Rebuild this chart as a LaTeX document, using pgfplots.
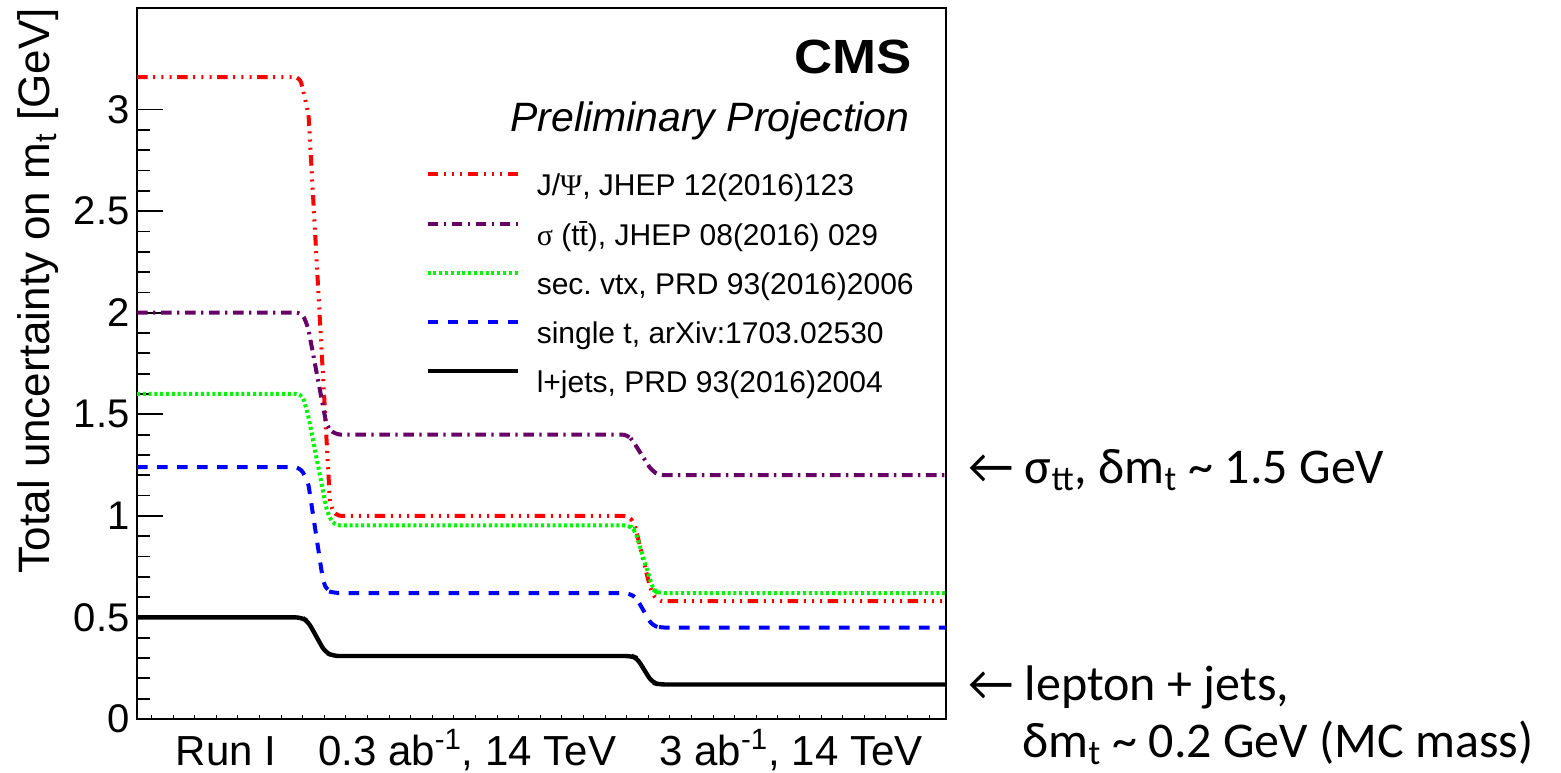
\documentclass[border=0pt]{standalone}
\usepackage{fontspec}
\setmainfont{Liberation Sans}
\newfontfamily\serif{Liberation Serif}
\newfontfamily\calibri{Carlito}
\usepackage{graphicx}
\usepackage{pgfplots}
\pgfplotsset{compat=1.18}
\usepackage{pgfplotstable}
\frenchspacing

\definecolor{cmsred}{RGB}{255,0,0}
\definecolor{cmspurple}{RGB}{102,0,102}
\definecolor{cmsgreen}{RGB}{0,245,0}
\definecolor{cmsblue}{RGB}{0,0,255}

% Projected total uncertainty on m_t for each method
% (x: 0-0.6 Run I, 0.7-1.85 0.3/ab, 1.9-3 3/ab; steps joined by short ramps)
\pgfplotstableread{
x y
0     3.16
0.604 3.16
0.636 2.98
0.716 1.06
0.735 1.00
1.821 1.00
1.843 0.97
1.906 0.63
1.930 0.58
3     0.58
}\jpsi
\pgfplotstableread{
x y
0     2.00
0.612 2.00
0.634 1.93
0.704 1.44
0.734 1.40
1.821 1.40
1.843 1.36
1.910 1.22
1.939 1.20
3     1.20
}\xsec
\pgfplotstableread{
x y
0     1.60
0.612 1.60
0.634 1.50
0.705 1.02
0.730 0.953
1.828 0.953
1.846 0.93
1.915 0.635
1.932 0.62
3     0.62
}\secvtx
\pgfplotstableread{
x y
0     1.24
0.604 1.24
0.634 1.17
0.690 0.68
0.705 0.63
0.734 0.62
1.828 0.62
1.854 0.59
1.910 0.46
1.939 0.45
3     0.45
}\singlet
\pgfplotstableread{
x y
0     0.50
0.612 0.50
0.634 0.48
0.697 0.33
0.727 0.31
1.835 0.31
1.854 0.30
1.910 0.18
1.935 0.17
3     0.17
}\ljets

\begin{document}
\begin{tikzpicture}
\path[use as bounding box] (0,0) rectangle (780.5pt,386pt);
\begin{axis}[
  at={(68.5pt,26.5pt)}, anchor=south west,
  width=404.5pt, height=355.5pt, scale only axis,
  xmin=0, xmax=3, ymin=0, ymax=3.5,
  axis line style={line width=0.9pt},
  clip=false,
  xtick={0.330,1.224,2.425},
  xticklabels={Run I, {0.3 ab\textsuperscript{-1}, 14 TeV}, {3 ab\textsuperscript{-1}, 14 TeV}},
  major x tick style={draw=none},
  extra x ticks={0.0535,0.1336,...,2.97},
  extra x tick labels={},
  extra x tick style={tickwidth=2pt, major x tick style={draw=black, line width=0.5pt}},
  ytick={0,0.5,1,1.5,2,2.5,3},
  minor y tick num=4,
  ytick pos=left, xtick pos=bottom,
  tickwidth=13pt, subtickwidth=6.5pt,
  tick style={line width=0.9pt, black},
  /pgf/number format/assume math mode=true,
  yticklabel style={font=\fontsize{20}{24}\selectfont, inner sep=3.5pt},
  xticklabel style={font=\fontsize{21}{25}\selectfont, anchor=base, yshift=-23pt, inner sep=0pt},
  legend style={draw=none, fill=none, at={(0.356,0.786)}, anchor=north west,
    inner sep=0pt, font=\fontsize{15}{18}\selectfont, row sep=0pt, column sep=8.5pt,
    nodes={inner sep=0pt, text height=17.7pt, text depth=6.9pt}},
  legend cell align=left,
  legend image code/.code={\draw[#1] (0pt,5.4pt) -- (45pt,5.4pt);},
]
\addplot[cmsred, line width=2pt, rounded corners=3pt,
  dash pattern=on 5.3pt off 2.8pt on 1pt off 3.1pt on 1pt off 3.1pt on 1pt off 2.7pt]
  table {\jpsi};
\addlegendentry{J/{\serif Ψ}, JHEP 12(2016)123}
\addplot[cmspurple, line width=2pt, rounded corners=3pt,
  dash pattern=on 5.3pt off 2.7pt on 1.2pt off 2.8pt]
  table {\xsec};
\addlegendentry{{\serif σ} (t\=t), JHEP 08(2016) 029}
\addplot[cmsgreen, line width=2pt, rounded corners=3pt,
  dash pattern=on 1.5pt off 1.4pt]
  table {\secvtx};
\addlegendentry{sec. vtx, PRD 93(2016)2006}
\addplot[cmsblue, line width=2pt, rounded corners=3pt,
  dash pattern=on 5.3pt off 4.7pt]
  table {\singlet};
\addlegendentry{single t, arXiv:1703.02530}
\addplot[black, line width=2.2pt, rounded corners=3pt]
  table {\ljets};
\addlegendentry{l+jets, PRD 93(2016)2004}

\node[anchor=base east, inner sep=0pt] at (rel axis cs:0.958,0.908)
  {\scalebox{1.1}[1]{\fontsize{24}{28}\selectfont\bfseries CMS}};
\node[anchor=base east, inner sep=0pt] at (rel axis cs:0.955,0.827)
  {\fontsize{20.5}{24}\selectfont\itshape Preliminary Projection};
\node[rotate=90, anchor=base east, inner sep=0pt] at ([xshift=-43.5pt]rel axis cs:0,1)
  {\fontsize{22}{26}\selectfont Total uncertainty on m\textsubscript{t} [GeV]};
\end{axis}
% annotations beside the frame
\node[anchor=base west, inner sep=0pt] at (484pt,144.5pt)
  {\calibri\fontsize{25}{30}\selectfont ← σ\textsubscript{tt}, δm\textsubscript{t} \textasciitilde{} 1.5 GeV};
\node[anchor=base west, inner sep=0pt] at (484pt,36pt)
  {\calibri\fontsize{25}{30}\selectfont ← lepton + jets,};
\node[anchor=base west, inner sep=0pt] at (511pt,7.5pt)
  {\calibri\fontsize{25}{30}\selectfont δm\textsubscript{t} \textasciitilde{} 0.2 GeV (MC mass)};
\end{tikzpicture}
\end{document}
